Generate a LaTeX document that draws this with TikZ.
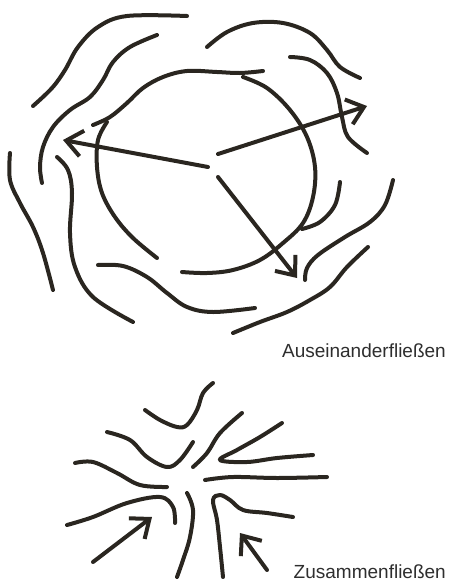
\documentclass[tikz,border=0pt]{standalone}
\usepackage{fontspec}
\setmainfont{Liberation Sans}
\usetikzlibrary{arrows.meta}
\definecolor{ink}{HTML}{2A2620}
\definecolor{txt}{HTML}{2E2E2E}
\tikzset{
  stroke/.style={draw=ink, line width=4pt, line cap=round, line join=round},
  wave/.style={stroke, smooth, tension=0.6},
  arr/.style={stroke, -{Straight Barb[length=16pt,width=26pt,line width=4pt]}},
  label/.style={font=\fontsize{19}{22}\selectfont, text=txt, inner sep=0pt, anchor=base east}
}
\begin{document}
\begin{tikzpicture}[x=1pt,y=-1pt]
\useasboundingbox (0,0) rectangle (448,584);
% ---- upper: Auseinanderfliessen ----
\draw[wave] plot coordinates {(33,106) (52,88) (65,70) (78,47) (98,27) (127,16) (187,16)};
\draw[wave] plot coordinates {(157,35) (130,47) (113,62) (103,80) (90,97) (70,110) (53,127) (43,147) (40,167) (42,183)};
\draw[wave] plot coordinates {(10,153) (10,180) (20,203) (33,227) (43,253) (53,290)};
\draw[wave] plot coordinates {(57,157) (68,170) (72,193) (70,233) (75,267) (93,297) (133,322)};
\draw[wave] plot coordinates {(93,125) (110,117) (127,103) (143,88) (163,77) (187,71) (217,72) (240,73) (263,71)};
\draw[wave] plot coordinates {(107,122) (98,140) (97,167) (102,193) (115,217) (133,238) (157,258)};
\draw[wave] plot coordinates {(243,77) (267,88) (290,110) (307,137) (315,167) (313,197) (303,223) (283,243) (260,260) (233,270) (207,273) (182,272)};
\draw[wave] plot coordinates {(207,47) (227,32) (253,23) (283,23) (310,33) (327,50) (340,67) (360,78)};
\draw[wave] plot coordinates {(290,57) (310,60) (327,73) (337,93) (342,117) (348,137) (367,153)};
\draw[wave] plot coordinates {(340,182) (335,205) (320,222) (302,229)};
\draw[wave] plot coordinates {(393,180) (385,205) (370,222) (345,237) (318,255) (307,268) (305,280)};
\draw[wave] plot coordinates {(368,247) (347,267) (330,287) (310,300) (287,312) (260,322) (233,333)};
\draw[wave] plot coordinates {(98,265) (123,266) (147,277) (167,293) (187,307) (213,312) (255,308)};
\coordinate (cL) at (208,167);
\coordinate (cR) at (218,154);
\coordinate (cD) at (218,177);
\coordinate (tL) at (63,140);
\coordinate (tR) at (367,106);
\coordinate (tD) at (297,278);
\draw[arr] (cL) -- (tL);
\draw[arr] (cR) -- (tR);
\draw[arr] (cD) -- (tD);
\node[label] (aus) at (446,357) {Auseinanderfließen};
% ---- lower: Zusammenfliessen ----
\draw[wave] plot coordinates {(145,410) (160,420) (177,427) (187,425) (197,410) (203,393) (213,383)};
\draw[wave] plot coordinates {(107,432) (130,440) (147,457) (167,467) (180,460) (193,442)};
\draw[wave] plot coordinates {(193,467) (207,453) (220,433) (242,413)};
\draw[wave] plot coordinates {(75,463) (93,462) (117,473) (140,485) (167,487)};
\draw[wave] plot coordinates {(282,423) (260,437) (237,450) (220,460) (247,462) (277,458) (313,455)};
\draw[wave] plot coordinates {(205,480) (233,477) (277,478) (327,477)};
\draw[wave] plot coordinates {(67,525) (93,517) (127,503) (160,497) (173,507) (175,523)};
\draw[wave] plot coordinates {(187,493) (193,510) (190,537) (183,560) (177,577)};
\draw[wave] plot coordinates {(223,577) (220,547) (217,520) (213,500) (220,495) (230,500) (243,510) (267,513) (293,517)};
\coordinate (s1) at (93,562);
\coordinate (e1) at (152,517);
\coordinate (s2) at (267,570);
\coordinate (e2) at (240,533);
\draw[arr] (s1) -- (e1);
\draw[arr] (s2) -- (e2);
\node[label] (zus) at (446,578) {Zusammenfließen};
\end{tikzpicture}
\end{document}
